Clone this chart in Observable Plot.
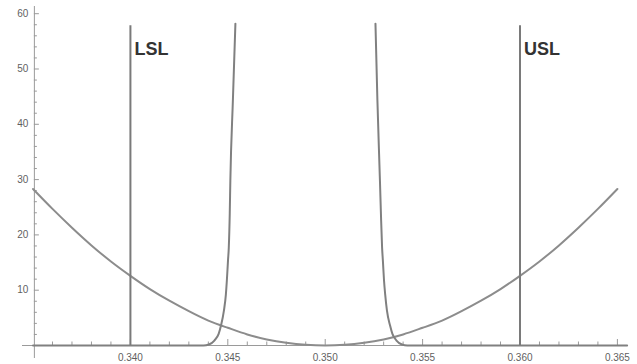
<!DOCTYPE html>
<html>
<head>
<meta charset="utf-8">
<script src="https://cdn.jsdelivr.net/npm/d3@7"></script>
<script src="https://cdn.jsdelivr.net/npm/@observablehq/plot@0.6"></script>
<style>
  html, body { margin: 0; padding: 0; background: #fff; }
  svg { display: block; }
</style>
</head>
<body>
<div id="chart"></div>
<script>
// Quadratic loss curve
const lossX = [0.335,0.336,0.337,0.338,0.339,0.340,0.341,0.342,0.343,0.344,0.345,0.346,0.347,0.348,0.349,0.350,
               0.351,0.352,0.353,0.354,0.355,0.356,0.357,0.358,0.359,0.360,0.361,0.362,0.363,0.364,0.365];
const lossY = [28.3,24.7,21.3,18.1,15.2,12.6,10.2,8.1,6.2,4.5,3.2,2.0,1.1,0.5,0.13,0,
               0.13,0.5,1.1,2.0,3.2,4.5,6.2,8.1,10.2,12.6,15.2,18.1,21.3,24.7,28.3];

// Steep left branch
const leftX = [0.335,0.3430,0.34375,0.34403,0.34431,0.34453,0.34465,0.34480,0.34490,0.34495,0.34501,0.34505,0.34510,0.34513,0.34526,0.34539];
const leftY = [0,0,0,0.18,0.9,2.1,3.6,6.3,9.2,11.7,15.4,17.7,23.9,29.8,44.3,58.2];

// Steep right branch
const rightX = [0.35258,0.35268,0.35281,0.35286,0.35292,0.35296,0.35302,0.35308,0.35317,0.35333,0.35345,0.35366,0.35394,0.35422,0.3550,0.3655];
const rightY = [58.2,44.3,29.8,23.9,17.7,15.4,11.7,9.2,6.3,3.6,2.1,0.9,0.18,0,0,0];

// Specification limits
const limitX = [0.340, 0.360];
const limitLabels = ["LSL", "USL"];
const limitTop = 57.8;

// Axis ticks
const xMajor = [0.340, 0.345, 0.350, 0.355, 0.360, 0.365];
const xMajorLabels = ["0.340", "0.345", "0.350", "0.355", "0.360", "0.365"];
const xMinor = [0.336,0.337,0.338,0.339,0.341,0.342,0.343,0.344,0.346,0.347,0.348,0.349,
                0.351,0.352,0.353,0.354,0.356,0.357,0.358,0.359,0.361,0.362,0.363,0.364];
const yMajor = [10, 20, 30, 40, 50, 60];
const yMinor = [2,4,6,8,12,14,16,18,22,24,26,28,32,34,36,38,42,44,46,48,52,54,56,58];

const xDomain = [0.33446, 0.36557];
const yDomain = [-2.35, 61.3];
const yAxisX = 0.33507;

const loss = lossX.map((x, i) => ({x, y: lossY[i]}));
const left = leftX.map((x, i) => ({x, y: leftY[i]}));
const right = rightX.map((x, i) => ({x, y: rightY[i]}));
const limits = limitX.map((x, i) => ({x, label: limitLabels[i]}));

const axisColor = "#9a9a9a";
const labelColor = "#5f5f5f";
const font = "'Liberation Sans', Arial, sans-serif";
const pxX = (xDomain[1] - xDomain[0]) / 606; // data units per pixel (x)
const pxY = (yDomain[1] - yDomain[0]) / 352; // data units per pixel (y)

const chart = Plot.plot({
  width: 637,
  height: 364,
  marginLeft: 22,
  marginRight: 9,
  marginTop: 6,
  marginBottom: 6,
  style: {fontFamily: font, background: "#fff"},
  x: {domain: xDomain, axis: null},
  y: {domain: yDomain, axis: null},
  marks: [
    // axes lines
    Plot.ruleY([0], {x1: xDomain[0], x2: xDomain[1], stroke: axisColor, strokeWidth: 1.2}),
    Plot.ruleX([yAxisX], {y1: yDomain[0], y2: yDomain[1], stroke: axisColor, strokeWidth: 1}),
    // x ticks
    Plot.ruleX(xMajor, {x: d => d, y1: 0, y2: 6 * pxY, stroke: axisColor}),
    Plot.ruleX(xMinor, {x: d => d, y1: 0, y2: 3.5 * pxY, stroke: axisColor}),
    Plot.text(xMajor, {x: d => d, y: 0, dy: 12, text: (d, i) => xMajorLabels[i], fontSize: 10, fill: labelColor, textAnchor: "middle"}),
    // y ticks
    Plot.ruleY(yMajor, {y: d => d, x1: yAxisX, x2: yAxisX + 5 * pxX, stroke: axisColor}),
    Plot.ruleY(yMinor, {y: d => d, x1: yAxisX, x2: yAxisX + 3 * pxX, stroke: axisColor}),
    Plot.text(yMajor, {x: yAxisX, y: d => d, dx: -6, text: d => String(d), fontSize: 10, fill: labelColor, textAnchor: "end"}),
    // curves
    Plot.line(loss, {x: "x", y: "y", curve: "natural", stroke: "#8c8c8c", strokeWidth: 2}),
    Plot.line(left, {x: "x", y: "y", curve: "monotone-x", stroke: "#808080", strokeWidth: 2}),
    Plot.line(right, {x: "x", y: "y", curve: "monotone-x", stroke: "#808080", strokeWidth: 2}),
    // spec limits
    Plot.ruleX(limits, {x: "x", y1: 0, y2: limitTop, stroke: "#7a7a7a", strokeWidth: 2}),
    Plot.text(limits, {x: "x", y: 53.6, dx: 4, text: "label", textAnchor: "start", fontSize: 18, fontWeight: "bold", fill: "#333"})
  ]
});
document.getElementById("chart").appendChild(chart);
</script>
</body>
</html>
